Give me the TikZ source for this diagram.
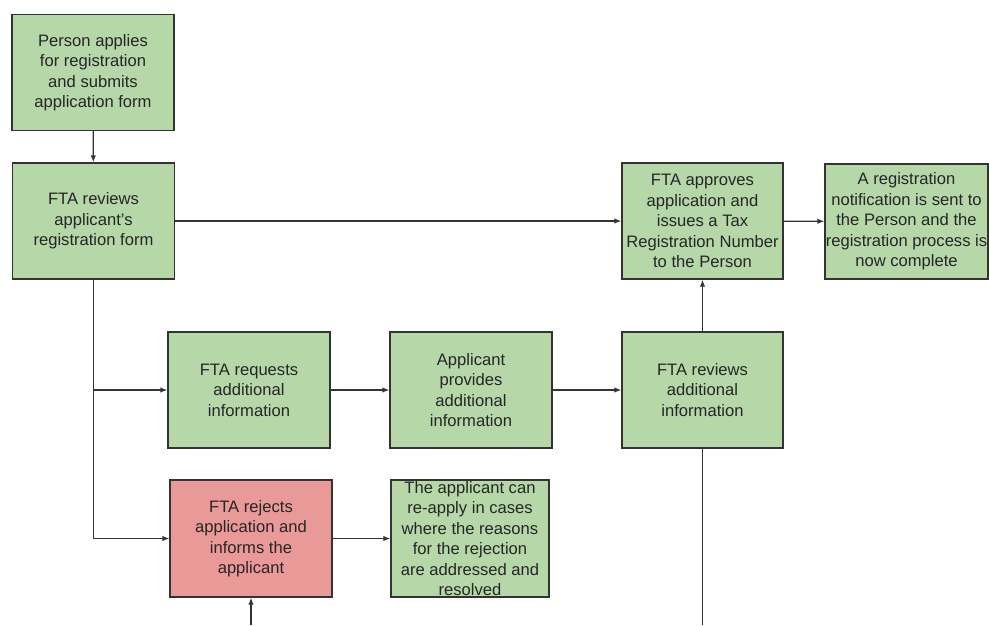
\documentclass[tikz,border=0pt]{standalone}
\usepackage{fontspec}
\setmainfont{Liberation Sans}
\usetikzlibrary{arrows.meta}
\definecolor{stepgreen}{HTML}{B6D7A8}
\definecolor{stepred}{HTML}{EA9999}
\definecolor{edgegray}{HTML}{333333}
\begin{document}
\begin{tikzpicture}[x=1pt, y=-1pt,
    box/.style={draw=edgegray, line width=1.3pt, fill=stepgreen, align=center,
        minimum width=162pt, minimum height=116pt, inner sep=1pt,
        font=\fontsize{16.6}{20.5}\selectfont, text=black!85},
    rejectbox/.style={box, fill=stepred},
    flow/.style={draw=black!80, line width=1.3pt, -{Latex[length=7pt,width=5.5pt]}},
    line/.style={draw=black!80, line width=1.3pt}]

    \useasboundingbox (0,0) rectangle (989,625);

    % Top row: application and first review
    \node[box] (apply) at (93,72.5) {Person applies\\for registration\\and submits\\application form};
    \node[box] (review) at (93.5,221) {FTA reviews\\applicant's\\registration form};

    % Approval path
    \node[box, minimum width=161pt] (approve) at (702.5,221) {FTA approves\\application and\\issues a Tax\\Registration Number\\to the Person};
    \node[box, minimum width=163pt, minimum height=115pt, inner xsep=0pt] (notify) at (906.5,221.5) {A registration\\notification is sent to\\the Person and the\\registration process is\\now complete};

    % Additional information path
    \node[box] (request) at (249,390) {FTA requests\\additional\\information};
    \node[box] (provide) at (471,390) {Applicant\\provides\\additional\\information};
    \node[box, minimum width=161pt] (reviewadd) at (702.5,390) {FTA reviews\\additional\\information};

    % Rejection path
    \node[rejectbox, minimum height=117pt] (reject) at (251,538.5) {FTA rejects\\application and\\informs the\\applicant};
    \node[box, minimum width=158pt, minimum height=117pt] (reapply) at (470,538.5) {The applicant can\\re-apply in cases\\where the reasons\\for the rejection\\are addressed and\\resolved};

    % Loose ends at the bottom edge
    \coordinate (cutA) at (702.5,625);
    \coordinate (cutB) at (251,625);

    % Connectors
    \draw[flow] (apply) -- (review);
    \draw[flow] (review) -- (approve);
    \draw[flow] (approve) -- (notify);
    \draw[flow] (review.south) |- (request.west);
    \draw[flow] (review.south) |- (reject.west);
    \draw[flow] (request) -- (provide);
    \draw[flow] (provide) -- (reviewadd);
    \draw[flow] (reviewadd) -- (approve);
    \draw[flow] (reject) -- (reapply);
    \draw[line] (reviewadd) -- (cutA);
    \draw[flow] (cutB) -- (reject);

\end{tikzpicture}
\end{document}
